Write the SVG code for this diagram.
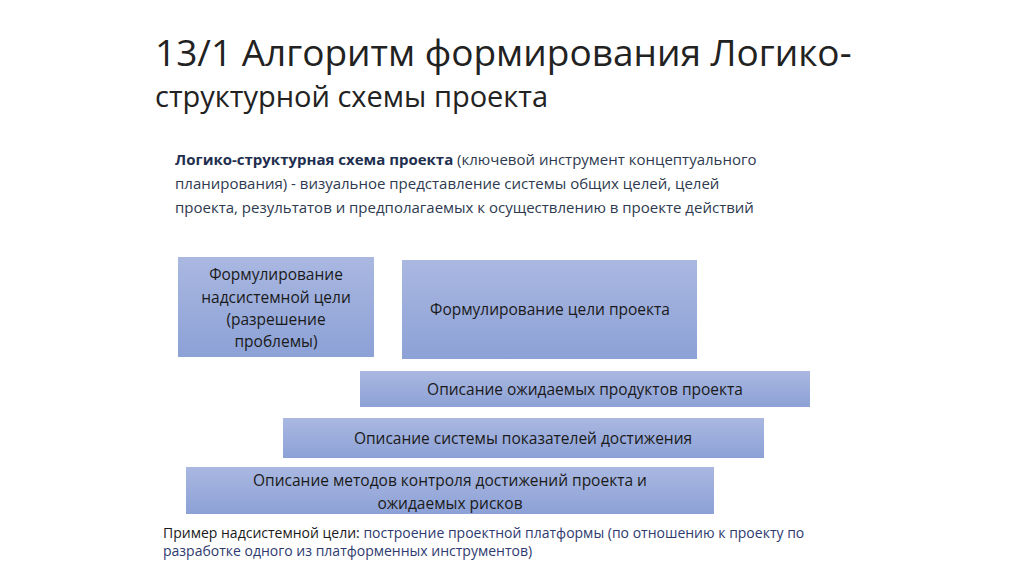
<svg xmlns="http://www.w3.org/2000/svg" width="1024" height="574" viewBox="0 0 1024 574">
<defs>
<linearGradient id="g" x1="0" y1="0" x2="0" y2="1"><stop offset="0" stop-color="#aab8e1"/><stop offset="1" stop-color="#8ca1d6"/></linearGradient>
<style>
.b{fill:url(#g)}
.t{font-family:"Open Sans","Liberation Sans",sans-serif;font-size:15.5px;fill:#1a1a1a;text-anchor:middle}
.d{font-family:"Open Sans","Liberation Sans",sans-serif;font-size:15px;fill:#2e3a4f}
</style>
</defs>
<rect width="1024" height="574" fill="#fff"/>
<text x="155" y="66" font-family="'Open Sans','Liberation Sans',sans-serif" font-size="37" fill="#222">13/1 Алгоритм формирования Логико-</text>
<text x="155" y="107" font-family="'Open Sans','Liberation Sans',sans-serif" font-size="29" fill="#222">структурной схемы проекта</text>
<text class="d" x="175" y="165"><tspan font-weight="bold" fill="#1f2f4f">Логико-структурная схема проекта</tspan> (ключевой инструмент концептуального</text>
<text class="d" x="175" y="189">планирования) - визуальное представление системы общих целей, целей</text>
<text class="d" x="175" y="213">проекта, результатов и предполагаемых к осуществлению в проекте  действий</text>
<g id="n1"><rect class="b" x="178" y="257" width="196" height="100"/>
<text class="t" x="276" y="280">Формулирование</text><text class="t" x="276" y="303">надсистемной цели</text><text class="t" x="276" y="325" font-size="14">(разрешение</text><text class="t" x="276" y="347" font-size="14">проблемы)</text></g>
<g id="n2"><rect class="b" x="402" y="260" width="295" height="99"/><text class="t" x="550" y="315">Формулирование цели проекта</text></g>
<g id="n3"><rect class="b" x="360" y="371" width="450" height="36"/><text class="t" x="585" y="395">Описание ожидаемых продуктов проекта</text></g>
<g id="n4"><rect class="b" x="283" y="418" width="481" height="40"/><text class="t" x="523" y="444">Описание системы показателей достижения</text></g>
<g id="n5"><rect class="b" x="186" y="467" width="528" height="47"/><text class="t" x="450" y="486">Описание методов контроля достижений проекта и</text><text class="t" x="450" y="509">ожидаемых рисков</text></g>
<g id="connectors"/>
<text x="163" y="538" font-family="'Open Sans','Liberation Sans',sans-serif" font-size="14" fill="#1a1a1a">Пример надсистемной цели:  <tspan fill="#2e3a6f">построение проектной платформы (по отношению к проекту по</tspan></text>
<text x="163" y="556" font-family="'Open Sans','Liberation Sans',sans-serif" font-size="14" fill="#2e3a6f">разработке одного из платформенных инструментов)</text>
</svg>
